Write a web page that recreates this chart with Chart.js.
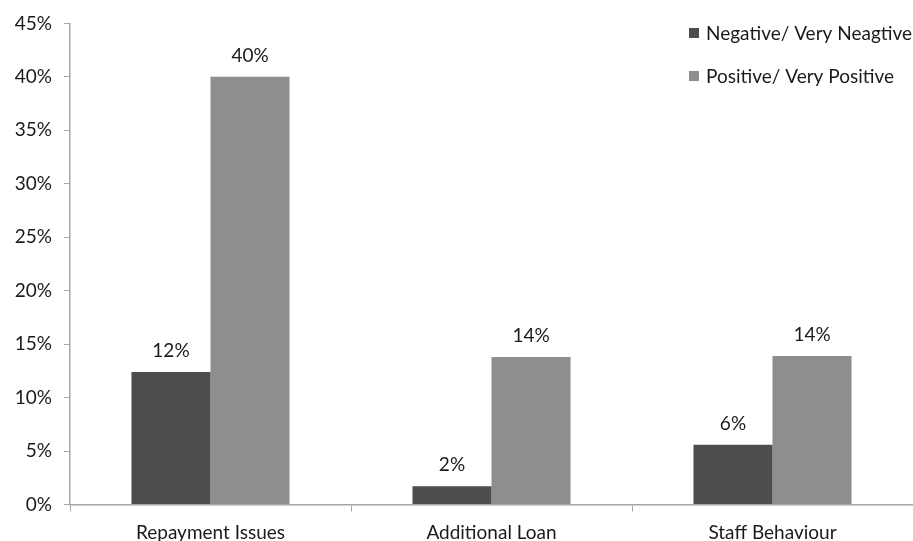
<!DOCTYPE html>
<html>
<head>
<meta charset="utf-8">
<script src="https://cdn.jsdelivr.net/npm/chart.js@4/dist/chart.umd.min.js"></script>
<style>
  html, body { margin: 0; padding: 0; background: #ffffff; }
  #wrap { width: 913px; height: 541px; position: relative; }
</style>
</head>
<body>
<div id="wrap"><canvas id="chart"></canvas></div>
<script>
// Survey responses by area
const categories = ['Repayment Issues', 'Additional Loan', 'Staff Behaviour'];
const negativeValues = [12.4, 1.7, 5.6];
const positiveValues = [40.0, 13.8, 13.9];
const seriesNames = ['Negative/ Very Neagtive', 'Positive/ Very Positive'];
const yTicks = [0, 5, 10, 15, 20, 25, 30, 35, 40, 45];

const FONT = 'Lato, "Open Sans", sans-serif';
const FONT_SIZE = 19;
const TEXT = '#1a1a1a';
const AXIS = '#a6a6a6';

// Value labels above each bar, placed from the bar elements
const valueLabels = {
  id: 'valueLabels',
  afterDatasetsDraw(chart) {
    const ctx = chart.ctx;
    ctx.save();
    ctx.font = FONT_SIZE + 'px ' + FONT;
    ctx.fillStyle = TEXT;
    ctx.textAlign = 'center';
    ctx.textBaseline = 'alphabetic';
    chart.data.datasets.forEach((ds, i) => {
      chart.getDatasetMeta(i).data.forEach((bar, j) => {
        ctx.fillText(Math.round(ds.data[j]) + '%', bar.x, bar.y - 15);
      });
    });
    ctx.restore();
  }
};

// Legend stacked in the upper right corner of the plot
const cornerLegend = {
  id: 'cornerLegend',
  afterDraw(chart) {
    const ctx = chart.ctx;
    ctx.save();
    ctx.font = FONT_SIZE + 'px ' + FONT;
    ctx.textBaseline = 'alphabetic';
    ctx.textAlign = 'left';
    chart.data.datasets.forEach((ds, i) => {
      const base = 40 + i * 43;
      ctx.fillStyle = ds.backgroundColor;
      ctx.fillRect(689, base - 12, 10, 10);
      ctx.fillStyle = TEXT;
      ctx.fillText(ds.label, 706, base);
    });
    ctx.restore();
  }
};

new Chart(document.getElementById('chart'), {
  type: 'bar',
  data: {
    labels: categories,
    datasets: [
      { label: seriesNames[0], data: negativeValues, backgroundColor: '#4d4d4d' },
      { label: seriesNames[1], data: positiveValues, backgroundColor: '#8e8e8e' }
    ]
  },
  options: {
    responsive: true,
    maintainAspectRatio: false,
    animation: false,
    layout: { padding: { top: 22, right: 0, left: 0, bottom: 0 } },
    datasets: { bar: { categoryPercentage: 0.5625, barPercentage: 1.0 } },
    plugins: {
      legend: { display: false },
      tooltip: { enabled: false }
    },
    scales: {
      x: {
        grid: {
          offset: true,
          drawOnChartArea: false,
          drawTicks: true,
          tickLength: 7,
          color: AXIS
        },
        border: { color: AXIS, width: 1.5 },
        ticks: {
          color: TEXT,
          font: { family: FONT, size: FONT_SIZE },
          padding: 10
        },
        afterFit(scale) { scale.height = 36.5; }
      },
      y: {
        min: 0,
        max: 45,
        afterBuildTicks(scale) { scale.ticks = yTicks.map(v => ({ value: v })); },
        grid: {
          drawOnChartArea: false,
          drawTicks: true,
          tickLength: 6,
          color: AXIS
        },
        border: { color: AXIS, width: 1.5 },
        ticks: {
          color: TEXT,
          font: { family: FONT, size: FONT_SIZE },
          padding: 12,
          callback: v => v + '%'
        },
        afterFit(scale) { scale.width = 70; }
      }
    }
  },
  plugins: [valueLabels, cornerLegend]
});
</script>
</body>
</html>
